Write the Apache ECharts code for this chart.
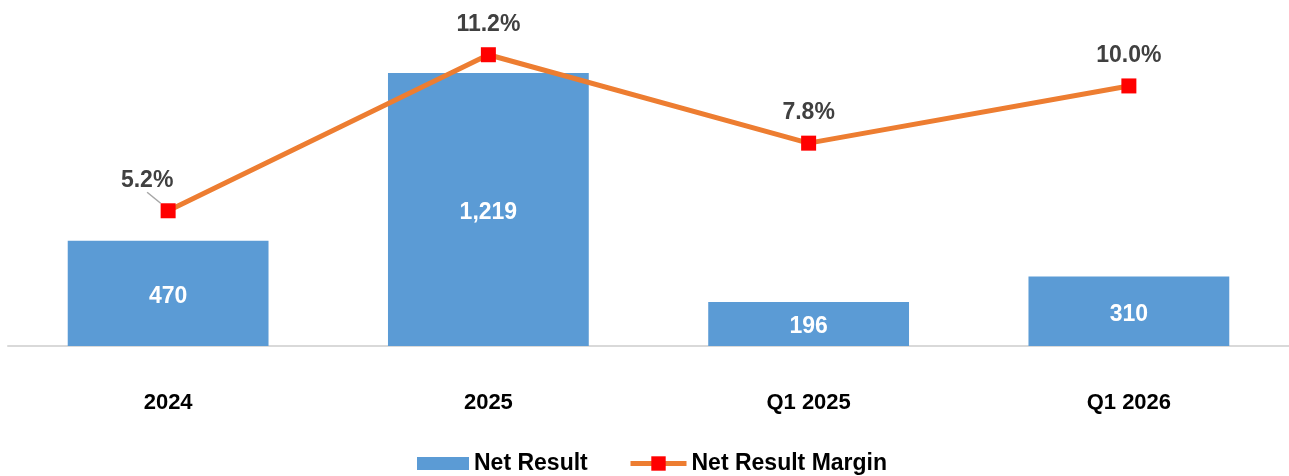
<!DOCTYPE html>
<html>
<head>
<meta charset="utf-8">
<script src="https://cdn.jsdelivr.net/npm/echarts@6/dist/echarts.min.js"></script>
<style>
  html, body { margin: 0; padding: 0; background: #fff; }
  #chart { width: 1289px; height: 476px; }
</style>
</head>
<body>
<div id="chart"></div>
<script>
// data
var categories = ['2024', '2025', 'Q1 2025', 'Q1 2026'];
var netResult = [470, 1219, 196, 310];
var netMargin = [5.2, 11.2, 7.8, 10.0];

var font = 'Liberation Sans, Arial, sans-serif';
var legendText = { fontFamily: font, fontSize: 23, fontWeight: 'bold', color: '#000' };

var chart = echarts.init(document.getElementById('chart'));
var option = {
    animation: false,
    textStyle: { fontFamily: font },
    grid: {
        left: 8,
        right: 0,
        top: 10,
        bottom: 130
    },
    legend: [{
        left: 417,
        bottom: 1,
        padding: 0,
        itemWidth: 52,
        itemHeight: 13,
        textStyle: legendText,
        data: [{ name: 'Net Result', icon: 'rect' }]
    }, {
        left: 628,
        bottom: 1,
        padding: 0,
        itemWidth: 56,
        itemHeight: 18,
        textStyle: legendText,
        data: [{ name: 'Net Result Margin', lineStyle: { width: 5 } }]
    }],
    xAxis: {
        type: 'category',
        data: categories,
        axisTick: { show: false },
        axisLine: { lineStyle: { color: '#d9d9d9', width: 2 } },
        axisLabel: {
            margin: 46,
            fontFamily: font,
            fontSize: 22,
            fontWeight: 'bold',
            color: '#000'
        }
    },
    yAxis: [{
        type: 'value',
        min: 0,
        max: 1500,
        show: false,
        splitLine: { show: false }
    }, {
        type: 'value',
        min: 0,
        max: 12.92,
        show: false,
        splitLine: { show: false }
    }],
    series: [{
        name: 'Net Result',
        type: 'bar',
        data: netResult,
        barWidth: '62.7%',
        itemStyle: { color: '#5b9bd5' },
        label: {
            show: true,
            position: 'inside',
            offset: [0, 3],
            color: '#fff',
            fontFamily: font,
            fontSize: 23,
            fontWeight: 'bold',
            formatter: function (p) { return p.value.toLocaleString('en-US'); }
        }
    }, {
        name: 'Net Result Margin',
        type: 'line',
        yAxisIndex: 1,
        data: netMargin.map(function (v, i) {
            var d = { value: v };
            // first label is pulled to the left with a small leader line
            if (i === 0) d.labelLine = { show: true, lineStyle: { color: '#a6a6a6', width: 1.5 } };
            return d;
        }),
        labelLayout: function (p) {
            return p.dataIndex === 0 ? { dx: -21 } : {};
        },
        lineStyle: { color: '#ed7d31', width: 5 },
        itemStyle: { color: '#ff0000' },
        symbol: 'rect',
        symbolSize: 15,
        z: 5,
        label: {
            show: true,
            position: 'top',
            distance: 11,
            color: '#404040',
            fontFamily: font,
            fontSize: 23,
            fontWeight: 'bold',
            formatter: function (p) { return p.value.toFixed(1) + '%'; }
        }
    }]
};
chart.setOption(option);
</script>
</body>
</html>
